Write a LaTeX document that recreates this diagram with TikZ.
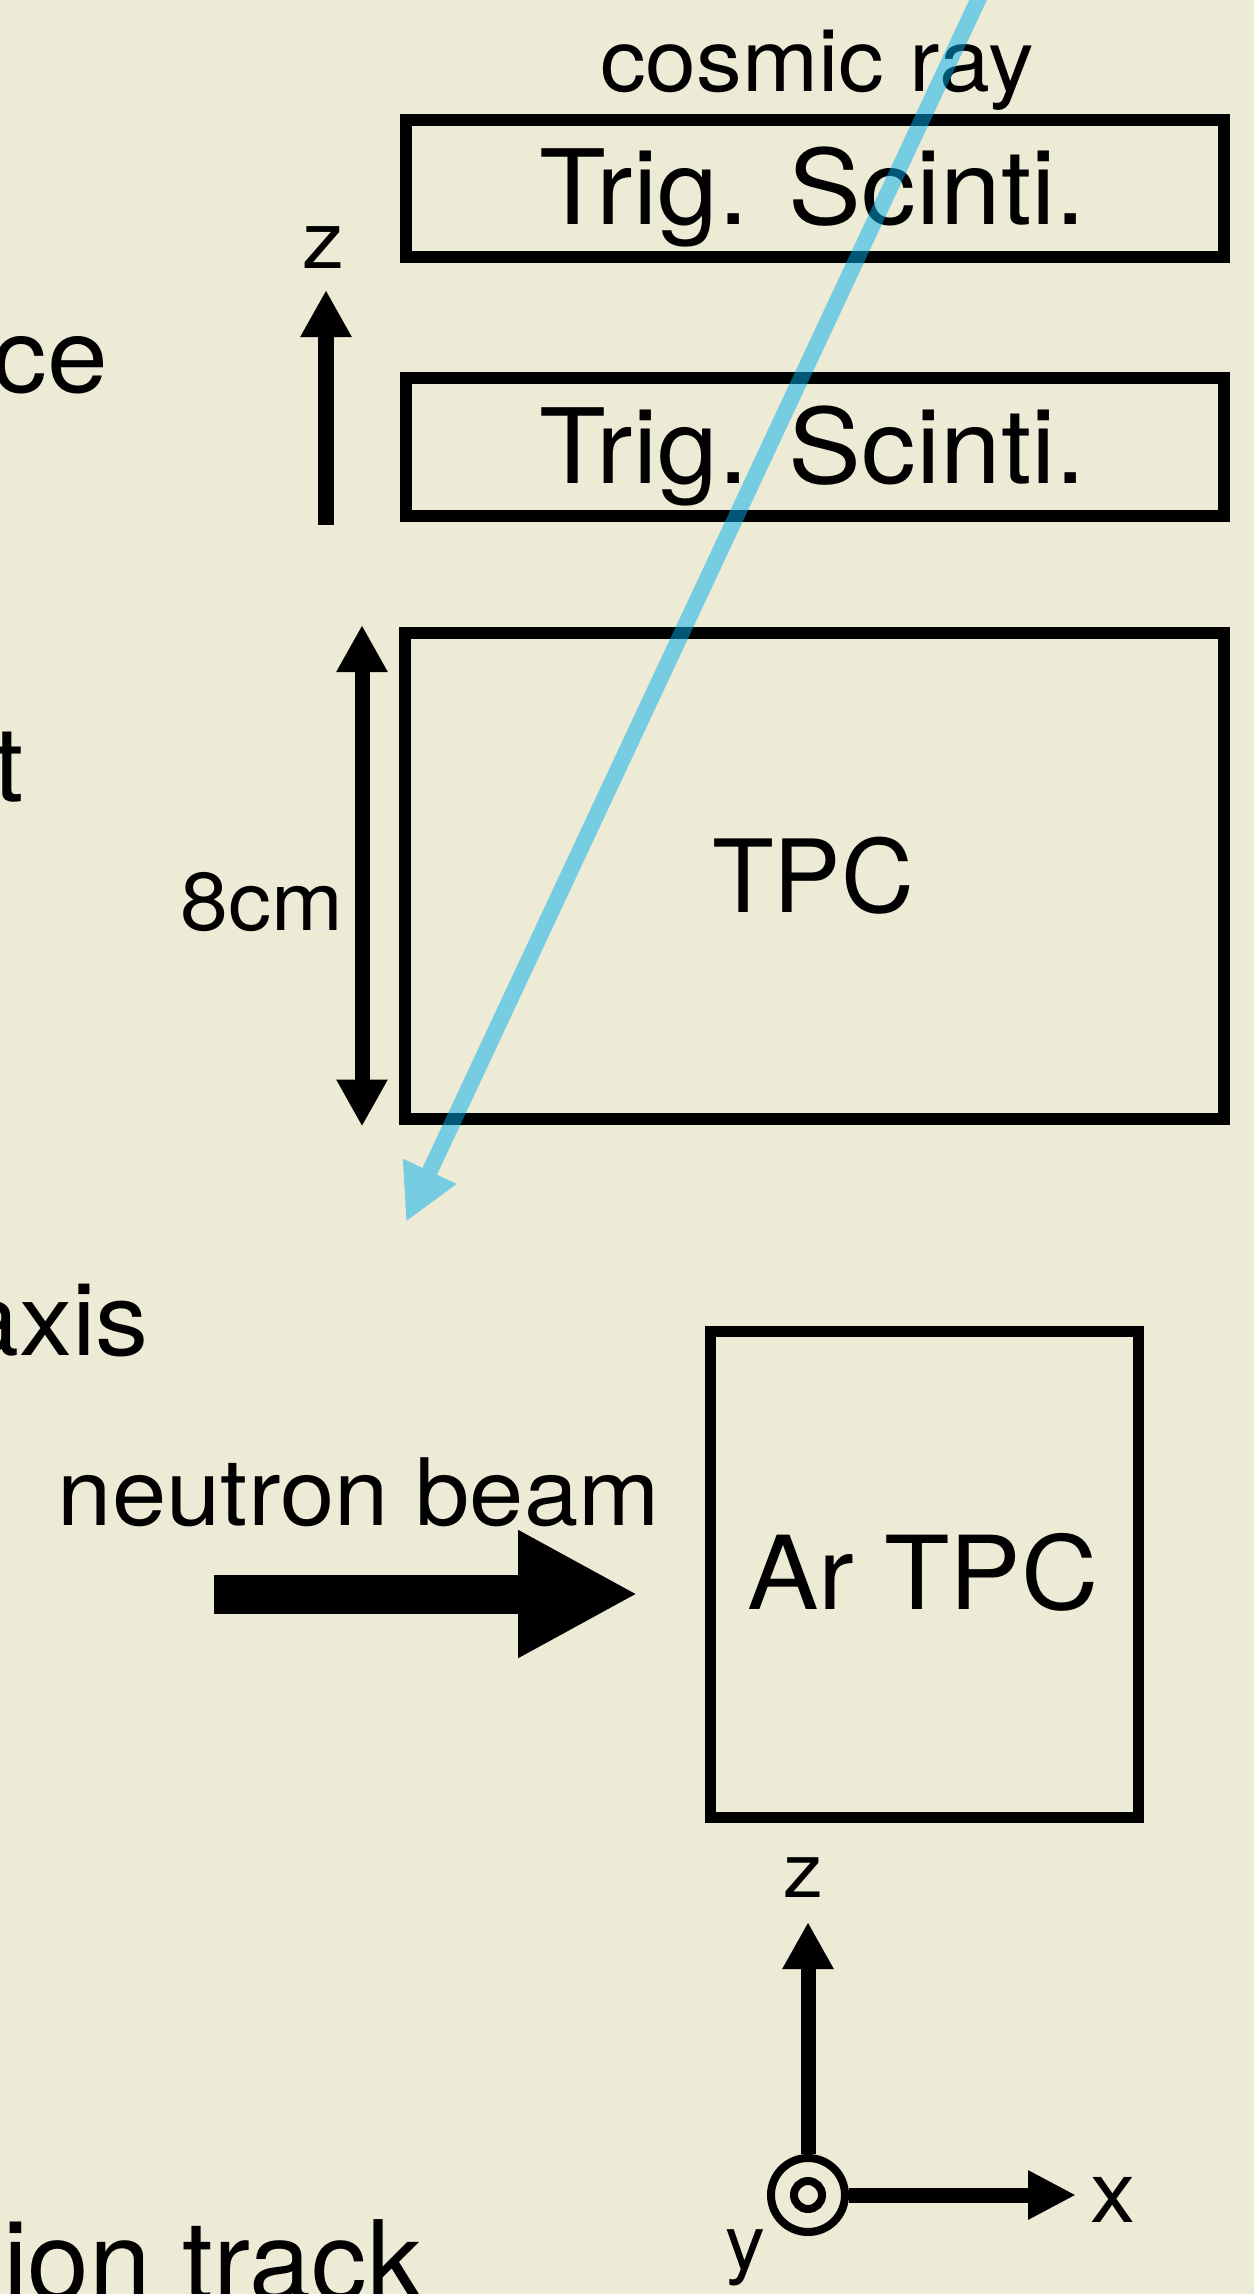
\documentclass[tikz,border=0pt]{standalone}
\usepackage{fontspec}
\setmainfont{TeX Gyre Heros}[FakeStretch=1.05]
\newfontfamily\plainhv{TeX Gyre Heros}
\usetikzlibrary{arrows.meta}
\definecolor{bgc}{RGB}{237,234,214}
\definecolor{rayc}{RGB}{0,175,235}
\newcommand{\fsz}[1]{\fontsize{#1}{#1}\selectfont}
\begin{document}
\begin{tikzpicture}[x=1pt,y=-1pt,
  box/.style={draw=black, line width=12pt, inner sep=0pt},
  lab/.style={inner sep=0pt, anchor=base},
  labr/.style={inner sep=0pt, anchor=base east},
  thinarrow/.style={line width=15pt, -{Triangle[length=47pt,width=48pt]}},
]
\fill[bgc] (0,0) rectangle (1254,2294);
\useasboundingbox (0,0) rectangle (1254,2294);

% cut-off texts from the neighbouring panel
\node[labr, font=\fsz{104}] (ce) at (108,392) {ce};
\node[labr, font=\fsz{104}] (tt) at (24,801) {t};
\node[labr, font=\fsz{101}] (axis) at (149,1355) {axis};
\node[labr, font=\plainhv\fsz{111}] (iontrack) at (423,2300) {ion track};

% boxes
\node[box, minimum width=818pt, minimum height=137pt] (ts1) at (815,188.5) {};
\node[box, minimum width=818pt, minimum height=138pt] (ts2) at (815,447) {};
\node[box, minimum width=819pt, minimum height=486pt] (tpc) at (814.5,876) {};
\node[box, line width=11pt, minimum width=428pt, minimum height=486pt] (ar) at (924,1574) {};

% box labels
\node[lab, font=\fsz{104}] (ts1t) at (813,224) {Trig. Scinti.};
\node[lab, font=\fsz{104}] (ts2t) at (813,483) {Trig. Scinti.};
\node[lab, font=\plainhv\fsz{101}] (tpct) at (813,912) {TPC};
\node[lab, font=\fsz{102}] (art) at (923,1609) {Ar TPC};

% other labels
\node[lab, font=\fsz{87}] (cr) at (817,91) {cosmic ray};
\node[lab, font=\fsz{80}] (zu) at (323,268) {z};
\node[labr, font=\fsz{82}] (cm) at (343,930) {8cm};
\node[lab, font=\fsz{93}] (nb) at (359,1525) {neutron beam};

% upper z arrow
\coordinate (za0) at (326,525);
\coordinate (za1) at (326,290);
\draw[line width=16pt, -{Triangle[length=47pt,width=48pt]}] (za0) -- (za1);

% 8cm double arrow
\coordinate (d0) at (362,625);
\coordinate (d1) at (362,1126.5);
\draw[line width=15pt, {Triangle[length=47pt,width=48pt]}-{Triangle[length=47pt,width=48pt]}] (d0) -- (d1);

% neutron beam arrow
\coordinate (n0) at (214,1594);
\coordinate (n1) at (638,1594);
\draw[line width=39pt, -{Triangle[length=120pt,width=119pt]}] (n0) -- (n1);

% coordinate system
\node[draw, circle, line width=8pt, minimum size=74pt, inner sep=0pt] (o) at (808,2195) {};
\node[draw, circle, line width=8pt, minimum size=28pt, inner sep=0pt] (oi) at (808,2195) {};
\coordinate (zt) at (808,1922);
\coordinate (xt) at (1076,2195);
\draw[thinarrow] (o.north) -- (zt);
\draw[line width=15pt, -{Triangle[length=48pt,width=46pt]}] (o.east) -- (xt);
\node[lab, font=\fsz{76}] (zl) at (803,1897) {z};
\node[lab, font=\fsz{86}] (xl) at (1113,2222) {x};
\node[lab, font=\fsz{76}] (yl) at (745,2269) {y};

% cosmic ray track
\coordinate (c0) at (987.4,-20);
\coordinate (c1) at (406,1222);
\begin{scope}[transparency group, opacity=0.5]
\draw[rayc, line width=16pt, -{Triangle[length=56pt,width=55pt]}] (c0) -- (c1);
\end{scope}
\end{tikzpicture}
\end{document}
